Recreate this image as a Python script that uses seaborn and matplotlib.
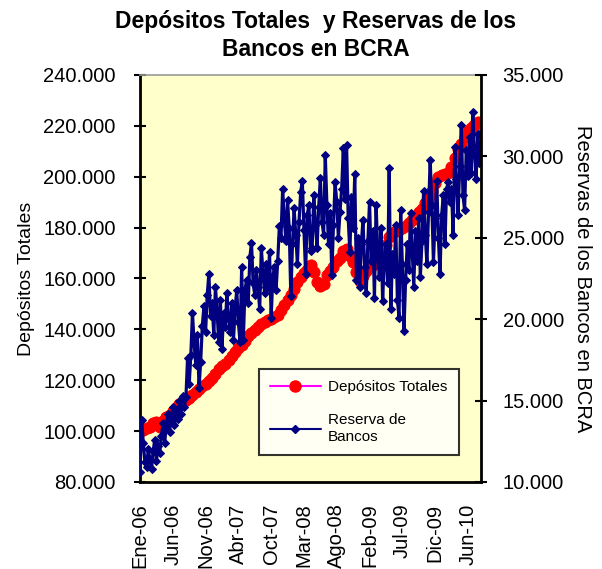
import numpy as np
import seaborn as sns
import matplotlib.pyplot as plt
from matplotlib.lines import Line2D

# Depósitos Totales (miles de millones), one value every 10 business days
deposits = [100.0, 100.5, 101.3, 101.8, 103.0, 103.5, 101.5, 104.0, 105.5, 106.5,
            108.0, 109.0, 110.5, 111.5, 112.3, 113.2, 114.2, 115.5, 116.6, 117.6,
            118.5, 119.8, 121.0, 122.5, 124.3, 125.5, 126.5, 128.0, 129.5, 131.0,
            132.5, 134.0, 135.5, 137.3, 138.5, 139.8, 141.0, 142.0, 142.8, 143.5,
            144.0, 144.8, 145.8, 147.5, 149.5, 151.5, 153.5, 156.0, 158.5, 160.5,
            162.0, 163.5, 165.5, 162.5, 158.5, 157.0, 158.0, 161.5, 163.0, 164.5,
            167.0, 168.0, 171.0, 171.5, 169.0, 166.5, 162.5, 159.0, 161.0, 163.0,
            165.0, 165.5, 167.0, 168.5, 170.0, 173.0, 176.5, 178.0, 178.5, 179.0,
            180.0, 180.5, 182.0, 183.0, 184.5, 186.0, 187.5, 189.5, 192.0, 194.5,
            197.5, 200.0, 200.5, 201.0, 201.5, 204.0, 207.5, 211.0, 213.0, 215.5,
            218.0, 219.0, 220.5, 221.5, 216.0]

# Reserva de Bancos en BCRA, one value every 5 business days
reservas = [10.6, 13.8, 12.4, 11.2, 10.9, 12.0, 11.4, 10.8, 11.9, 12.6, 11.3, 12.2, 11.8,
            12.8, 13.6, 12.4, 13.4, 14.2, 13.1, 13.9, 14.6, 13.5, 14.4, 13.9, 15.0, 14.2, 15.3, 14.6,
            15.2, 17.6, 16.0, 17.8, 20.4, 18.5, 17.2, 19.0, 15.8, 17.4, 19.6, 20.8, 19.2,
            21.5, 22.8, 20.2, 21.0, 19.0, 22.0, 20.5, 18.6, 21.2,
            18.2, 20.4, 19.5, 21.6, 20.0, 19.2, 21.0, 18.7, 20.6, 21.8, 19.8, 18.6,
            23.2, 18.7, 21.8, 22.4, 21.0, 23.8, 24.7, 22.2, 21.5, 23.0, 22.0, 20.6,
            24.4, 22.8, 21.6, 23.4, 22.0, 24.1, 20.1, 22.6, 23.2, 21.8, 23.6, 25.7,
            25.0, 28.0, 26.2, 24.8, 27.3, 25.6, 21.4, 24.6, 26.8, 25.2, 23.4, 26.0,
            27.8, 28.5, 25.5, 22.8, 26.4, 27.0, 24.2,
            24.4, 27.6, 25.8, 24.4, 26.9, 28.7, 26.0, 25.2, 30.1, 27.0, 24.6, 26.5,
            22.7, 25.8, 28.4, 27.2, 25.0, 26.6, 28.0, 30.5, 27.4, 30.7, 26.2, 24.1,
            27.5, 25.6, 28.9,
            22.4, 25.0, 22.0, 24.6, 26.1, 23.2, 21.6, 24.8, 27.2, 23.6, 25.4, 21.3,
            27.0, 24.2, 22.6, 25.6, 21.1, 23.8, 24.6, 22.2, 29.3, 20.6, 24.0, 22.8,
            25.8, 21.2, 20.1, 26.7, 23.4, 19.3, 22.4, 24.6, 23.0, 26.5, 24.2, 22.0,
            25.4, 23.6, 26.2, 22.6,
            24.8, 27.9, 25.2, 23.4, 26.6, 29.8, 27.0, 23.5, 26.2, 28.5, 25.0, 22.8,
            26.4, 27.6, 24.6, 28.0, 28.4, 27.2,
            28.0, 25.2, 30.6, 28.6, 26.4, 29.4, 31.9, 27.6, 26.7, 30.4, 28.8, 31.2,
            29.0, 32.7, 30.2, 28.6, 31.4, 29.6, 30.8]

tick_labels = ["Ene-06", "Jun-06", "Nov-06", "Abr-07", "Oct-07", "Mar-08",
               "Ago-08", "Feb-09", "Jul-09", "Dic-09", "Jun-10"]

dep_x = np.arange(len(deposits)) * 10
res_x = np.arange(len(reservas)) * 5

sns.set_theme(style="white")
plt.rcParams["font.family"] = ["Liberation Sans", "DejaVu Sans"]
plt.rcParams["text.color"] = "black"
plt.rcParams["axes.labelcolor"] = "black"
plt.rcParams["xtick.color"] = "black"
plt.rcParams["ytick.color"] = "black"

fig = plt.figure(figsize=(6.02, 5.69), dpi=100)
ax1 = fig.add_axes([0.2326, 0.1529, 0.5664, 0.7153])
ax1.set_facecolor("#FFFFCC")
ax2 = ax1.twinx()

sns.lineplot(x=dep_x, y=deposits, ax=ax1, color="#FF00FF", linewidth=1.5,
             marker="o", markersize=8, markerfacecolor="red",
             markeredgecolor="red")
sns.lineplot(x=res_x, y=reservas, ax=ax2, color="#000080", linewidth=2.3,
             marker="D", markersize=4.3, markerfacecolor="#000080",
             markeredgecolor="#000080")

ax1.set_xlim(0, 1040)
ax1.set_ylim(80, 240)
ax2.set_ylim(10, 35)

tick_font = 14.5
ax1.set_xticks(np.arange(0, 1001, 100))
ax1.set_xticklabels(tick_labels, rotation=90, fontsize=tick_font)
ax1.set_yticks(np.arange(80, 241, 20))
ax1.set_yticklabels([f"{v:.3f}" for v in np.arange(80, 241, 20)], fontsize=tick_font)
ax2.set_yticks(np.arange(10, 36, 5))
ax2.set_yticklabels([f"{v:.3f}" for v in np.arange(10, 36, 5)], fontsize=tick_font)

ax1.tick_params(direction="inout", length=9, width=1.5, color="black", pad=13)
ax2.tick_params(direction="inout", length=9, width=1.5, color="black", pad=11)
ax1.tick_params(axis="x", pad=11)

for side in ("left", "bottom"):
    ax1.spines[side].set_color("black")
    ax1.spines[side].set_linewidth(2)
ax1.spines["top"].set_color("#999999")
ax1.spines["top"].set_linewidth(1.2)
ax1.spines["right"].set_visible(False)
for side in ("left", "bottom", "top"):
    ax2.spines[side].set_visible(False)
ax2.spines["right"].set_color("black")
ax2.spines["right"].set_linewidth(2)

ax1.set_ylabel("Depósitos Totales", fontsize=14, labelpad=6)
ax2.set_ylabel("Reservas de los Bancos en BCRA", fontsize=14.5, rotation=270,
               labelpad=20)
fig.suptitle("Depósitos Totales  y Reservas de los\nBancos en BCRA",
             fontsize=16.5, fontweight="bold", x=0.525, y=0.982, linespacing=1.25)

handles = [Line2D([], [], color="#FF00FF", linewidth=1.5, marker="o",
                  markersize=8, markerfacecolor="red", markeredgecolor="red"),
           Line2D([], [], color="#000080", linewidth=1.5, marker="D",
                  markersize=4, markerfacecolor="#000080")]
leg = ax2.legend(handles, ["Depósitos Totales", "Reserva de\nBancos"],
                 loc="lower left", bbox_to_anchor=(0.348, 0.066),
                 fontsize=11, frameon=True, fancybox=False, edgecolor="black",
                 handlelength=3.3, handletextpad=0.5, labelspacing=1.25,
                 borderpad=0.75, borderaxespad=0)
leg.get_frame().set_linewidth(1.5)
leg.get_frame().set_facecolor("white")

fig.savefig("out.png", dpi=100)
